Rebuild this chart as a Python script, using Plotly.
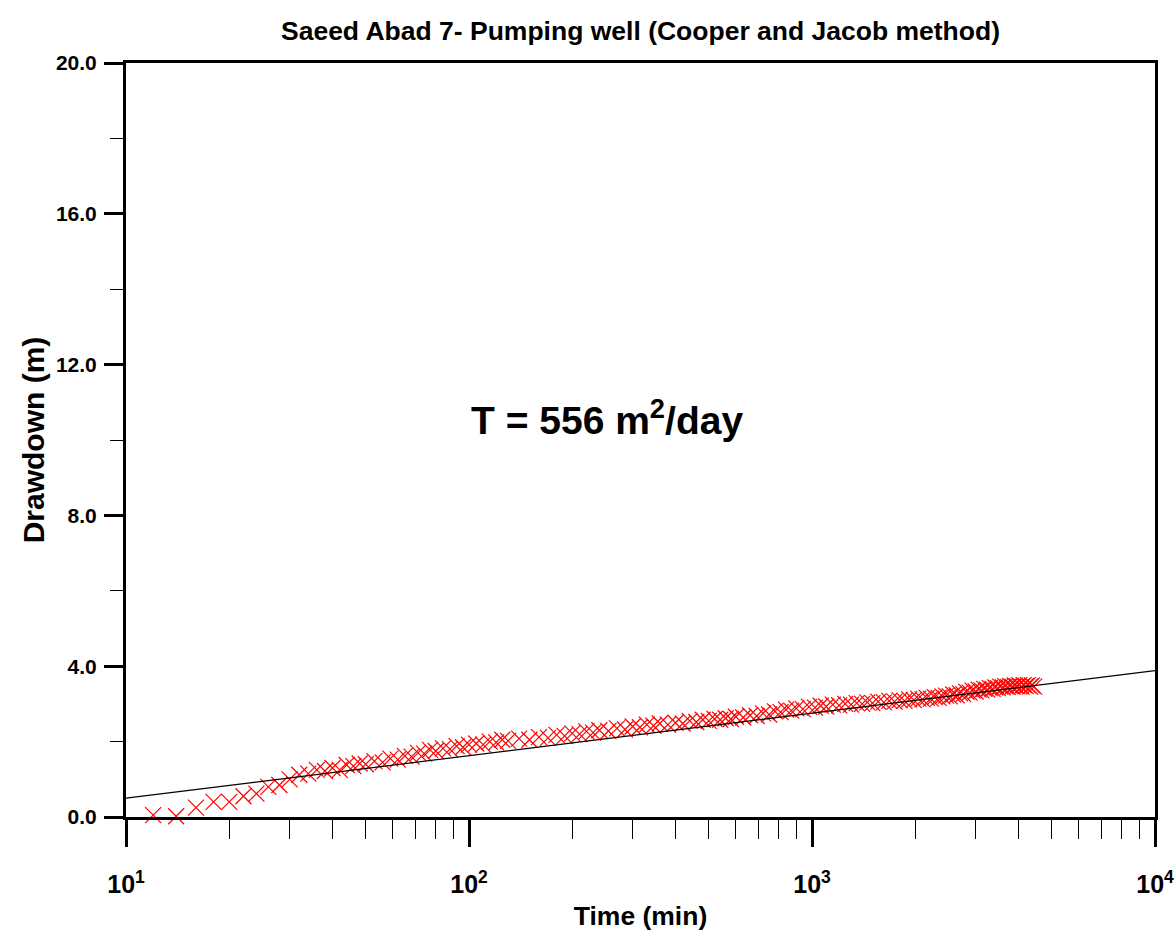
import plotly.graph_objects as go

# Observed drawdown data (time in minutes, drawdown in metres)
time_min = [12, 14, 16, 18, 20, 22, 24, 26, 28, 30, 32, 34, 36, 38, 40, 42, 44, 46, 48, 50,
            53, 56, 59, 62, 65, 68, 71, 74, 77, 80, 84, 88, 92, 96, 100, 105, 110, 115, 120, 125,
            130, 140, 150, 160, 170, 180, 190, 200, 210, 220, 230, 240, 255, 270, 285, 300, 315, 330, 345, 360,
            380, 400, 420, 440, 460, 480, 500, 520, 540, 560, 580, 600, 630, 660, 690, 720, 750, 780, 810, 840,
            870, 900, 940, 980, 1020, 1060, 1100, 1150, 1200, 1250, 1300, 1350, 1400, 1450, 1500, 1560, 1620, 1680, 1740, 1800,
            1860, 1920, 1980, 2040, 2100, 2160, 2220, 2280, 2340, 2400, 2460, 2520, 2580, 2640, 2700, 2760, 2820, 2880, 2940, 3000,
            3060, 3120, 3180, 3240, 3300, 3360, 3420, 3480, 3540, 3600, 3660, 3720, 3780, 3840, 3900, 3960, 4020, 4080, 4140, 4200,
            4260, 4320, 4380, 4440]
drawdown_m = [0.05, 0.02, 0.25, 0.40, 0.40, 0.55, 0.62, 0.80, 0.85, 1.00, 1.12, 1.15, 1.25, 1.22, 1.30, 1.25, 1.38, 1.35, 1.42, 1.40,
              1.48, 1.45, 1.55, 1.52, 1.62, 1.60, 1.70, 1.68, 1.78, 1.75, 1.82, 1.80, 1.88, 1.85, 1.92, 1.95, 1.92, 2.00, 1.98, 2.05,
              2.02, 2.08, 2.05, 2.12, 2.10, 2.18, 2.15, 2.22, 2.20, 2.27, 2.24, 2.30, 2.28, 2.35, 2.32, 2.40, 2.38, 2.45, 2.42, 2.48,
              2.45, 2.50, 2.48, 2.55, 2.52, 2.58, 2.55, 2.60, 2.58, 2.62, 2.60, 2.66, 2.64, 2.70, 2.68, 2.75, 2.72, 2.80, 2.78, 2.85,
              2.82, 2.88, 2.86, 2.92, 2.90, 2.95, 2.93, 2.98, 2.96, 3.00, 2.98, 3.02, 3.00, 3.04, 3.02, 3.06, 3.04, 3.08, 3.06, 3.10,
              3.08, 3.12, 3.10, 3.14, 3.12, 3.16, 3.14, 3.18, 3.16, 3.20, 3.22, 3.20, 3.25, 3.23, 3.28, 3.26, 3.32, 3.30, 3.35, 3.33,
              3.38, 3.36, 3.40, 3.38, 3.42, 3.40, 3.44, 3.42, 3.46, 3.44, 3.47, 3.45, 3.48, 3.46, 3.49, 3.47, 3.50, 3.46, 3.50, 3.47,
              3.50, 3.46, 3.49, 3.46]

# Cooper-Jacob straight-line fit
fit_time = [10, 10000]
fit_drawdown = [0.50, 3.88]

y_tick_vals = [0, 4, 8, 12, 16, 20]
y_tick_text = ["0.0", "4.0", "8.0", "12.0", "16.0", "20.0"]
y_minor_vals = [2, 6, 10, 14, 18]
x_tick_vals = [10, 100, 1000, 10000]
x_tick_text = ["10<sup>1</sup>", "10<sup>2</sup>", "10<sup>3</sup>", "10<sup>4</sup>"]
x_minor_vals = [m * d for d in (10, 100, 1000) for m in range(2, 10)]

FONT = "Liberation Sans, Arial, sans-serif"

fig = go.Figure()
fig.add_trace(go.Scatter(
    x=time_min, y=drawdown_m, mode="markers",
    marker=dict(symbol="x-thin-open", size=16, color="red",
                line=dict(color="red", width=1.2)),
    cliponaxis=False, showlegend=False))
fig.add_trace(go.Scatter(
    x=fit_time, y=fit_drawdown, mode="lines",
    line=dict(color="black", width=1.2), showlegend=False))

fig.add_annotation(
    x=0.467, y=10.6, xref="paper", yref="y", xanchor="center", yanchor="middle",
    text="T = 556 m<sup>2</sup>/day", showarrow=False,
    font=dict(family=FONT, size=39, color="black", weight="bold"))

fig.update_layout(
    width=1176, height=932,
    margin=dict(l=126, r=21, t=63, b=115),
    paper_bgcolor="white", plot_bgcolor="white",
    title=dict(text="Saeed Abad 7- Pumping well (Cooper and Jacob method)",
               x=0.5, xref="paper", xanchor="center", y=1 - 31 / 932, yanchor="middle",
               font=dict(family=FONT, size=26.5, color="black", weight="bold")),
    xaxis=dict(
        type="log", range=[1, 4], automargin=False,
        tickvals=x_tick_vals, ticktext=x_tick_text,
        ticks="outside", ticklen=27, tickwidth=3, tickcolor="black",
        ticklabelstandoff=16,
        minor=dict(tickvals=x_minor_vals, ticks="outside", ticklen=19, tickwidth=1, tickcolor="black"),
        showline=True, linecolor="black", linewidth=3, mirror=True,
        showgrid=False, zeroline=False,
        tickfont=dict(family=FONT, size=25, color="black", weight="bold"),
        title=dict(text="Time (min)", standoff=10,
                   font=dict(family=FONT, size=26.5, color="black", weight="bold")),
    ),
    yaxis=dict(
        range=[0, 20], automargin=False,
        tickvals=y_tick_vals, ticktext=y_tick_text,
        ticks="outside", ticklen=19, tickwidth=3, tickcolor="black",
        ticklabelstandoff=3,
        minor=dict(tickvals=y_minor_vals, ticks="outside", ticklen=13, tickwidth=1, tickcolor="black"),
        showline=True, linecolor="black", linewidth=3, mirror=True,
        showgrid=False, zeroline=False,
        tickfont=dict(family=FONT, size=21, color="black", weight="bold"),
        title=dict(text="Drawdown (m)", standoff=3,
                   font=dict(family=FONT, size=30, color="black", weight="bold")),
    ),
)

fig.write_html("out.html")
